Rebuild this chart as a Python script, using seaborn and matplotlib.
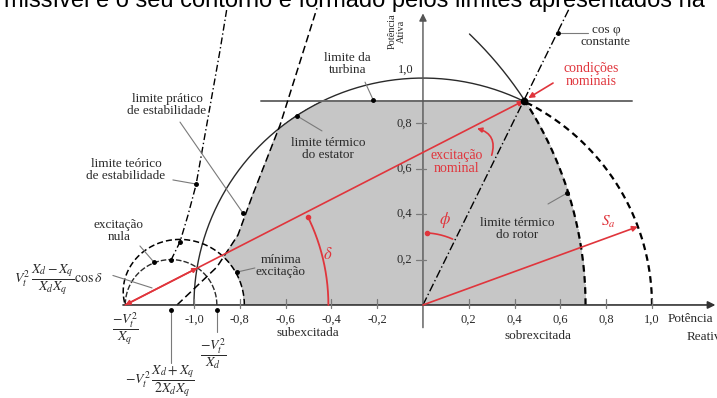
import numpy as np
import matplotlib
matplotlib.use("Agg")
import matplotlib.pyplot as plt
import seaborn as sns

sns.set_theme(style="white")
plt.rcParams["font.family"] = ["Liberation Serif", "DejaVu Serif"]
plt.rcParams["mathtext.fontset"] = "stix"

# ---- diagram values (per unit) ----
x_ticks = [-1.0, -0.8, -0.6, -0.4, -0.2, 0.2, 0.4, 0.6, 0.8, 1.0]
x_tick_labels = ["-1,0", "-0,8", "-0,6", "-0,4", "-0,2", "0,2", "0,4", "0,6", "0,8", "1,0"]
y_ticks = [0.2, 0.4, 0.6, 0.8, 1.0]
y_tick_labels = ["0,2", "0,4", "0,6", "0,8", "1,0"]

stator_radius = 1.0
turbine_p = 0.90
nominal_q, nominal_p = 0.44, 0.90
rotor_center_q, rotor_radius = -0.95, 1.66
v2_over_xq = 1.30          # V^2/Xq
v2_over_xd = 0.90          # V^2/Xd
min_excitation = 0.12
sa_angle_deg = 20.2
cosphi_end_p = 1.31

practical_q = [-1.074, -0.900, -0.808, -0.747, -0.624, -0.463]
practical_p = [0.000, 0.167, 0.308, 0.476, 0.793, 1.308]
theoretical_q = [-1.100, -1.061, -1.026, -0.991, -0.956, -0.921, -0.886, -0.856]
theoretical_p = [0.198, 0.278, 0.396, 0.529, 0.727, 0.925, 1.123, 1.308]

RED = "#e0353c"
INK = "#2a2a2a"
GREY = "#7a7a7a"
FILL = "#c6c6c6"

fig = plt.figure(figsize=(7.17, 3.98), dpi=100)
ax = fig.add_axes([0, 0, 1, 1])
ax.set_xlim(-1.847, 1.284)
ax.set_ylim(-0.410, 1.344)
ax.axis("off")


def arc(cq, cp, r, t0, t1, n=300):
    t = np.radians(np.linspace(t0, t1, n))
    return cq + r * np.cos(t), cp + r * np.sin(t)


def curve(q, p, **kw):
    sns.lineplot(x=np.asarray(q), y=np.asarray(p), sort=False, estimator=None,
                 ax=ax, legend=False, **kw)


a_q = -v2_over_xq                      # origin of the excitation phasor
chord = v2_over_xq - v2_over_xd        # reluctance circle diameter

# ---- operating region (shaded) ----
qq, pp = np.meshgrid(np.linspace(-1.4, 1.1, 1600), np.linspace(0, 1.0, 800))
r_a = np.hypot(qq - a_q, pp)
d_a = np.arctan2(pp, qq - a_q)
region = ((qq ** 2 + pp ** 2 <= stator_radius ** 2)
          & (pp <= turbine_p)
          & ((qq - rotor_center_q) ** 2 + pp ** 2 <= rotor_radius ** 2)
          & (qq >= np.interp(pp, practical_p, practical_q))
          & (r_a >= chord * np.cos(d_a) + min_excitation))
ax.contourf(qq, pp, region.astype(float), levels=[0.5, 1.5], colors=[FILL], zorder=0)

# ---- stator thermal limit (unit circle) ----
nom_ang = np.degrees(np.arctan2(nominal_p, nominal_q))
q, p = arc(0, 0, stator_radius, nom_ang, 180)
curve(q, p, color=INK, lw=1.0, zorder=2)
q, p = arc(0, 0, stator_radius, 0, nom_ang)
curve(q, p, color="black", lw=1.6, linestyle=(0, (3, 2)), zorder=2)

# ---- rotor thermal limit ----
rot_nom = np.degrees(np.arctan2(nominal_p, nominal_q - rotor_center_q))
q, p = arc(rotor_center_q, 0, rotor_radius, rot_nom, 46)
curve(q, p, color=INK, lw=1.0, zorder=2)
q, p = arc(rotor_center_q, 0, rotor_radius, 0, rot_nom)
curve(q, p, color="black", lw=1.6, linestyle=(0, (3, 2)), zorder=2)

# ---- turbine limit ----
curve([-0.707, 0.913], [turbine_p, turbine_p], color="#6a6a6a", lw=1.4, zorder=2)

# ---- zero excitation circle and minimum excitation curve ----
q, p = arc(a_q + chord / 2, 0, chord / 2, 0, 180)
curve(q, p, color=INK, lw=1.0, linestyle=(0, (4, 1.5)), zorder=2)
dd = np.radians(np.linspace(0, 107.5, 300))
rr = chord * np.cos(dd) + min_excitation
curve(a_q + rr * np.cos(dd), rr * np.sin(dd), color="black", lw=1.1,
      linestyle=(0, (4, 2)), zorder=2)

# ---- stability limits ----
curve(practical_q, practical_p, color="black", lw=1.1, linestyle=(0, (5, 2.5)), zorder=2)
curve(theoretical_q, theoretical_p, color="black", lw=1.0,
      linestyle=(0, (5, 2, 1, 2)), zorder=2)

# ---- constant power factor line ----
curve([0, nominal_q / nominal_p * cosphi_end_p], [0, cosphi_end_p], color="black",
      lw=1.0, linestyle=(0, (6, 2, 1, 2)), zorder=2)

# ---- axes with arrows ----
ax.annotate("", xy=(1.277, 0), xytext=(a_q - 0.01, 0),
            arrowprops=dict(arrowstyle="-|>", color="#333333", lw=1.2,
                            mutation_scale=11, shrinkA=0, shrinkB=0), zorder=3)
ax.annotate("", xy=(0, 1.285), xytext=(0, -0.10),
            arrowprops=dict(arrowstyle="-|>", color="#555555", lw=1.0,
                            mutation_scale=11, shrinkA=0, shrinkB=0), zorder=3)

for t, lab in zip(x_ticks, x_tick_labels):
    ax.plot([t, t], [-0.012, 0.025], color=GREY, lw=0.9, zorder=3)
    ax.text(t, -0.064, lab, ha="center", va="center", fontsize=9, color=INK)
for t, lab in zip(y_ticks, y_tick_labels):
    if t < 1.0:
        ax.plot([-0.03, 0.012], [t, t], color=GREY, lw=0.9, zorder=3)
        ax.text(-0.048, t, lab, ha="right", va="center", fontsize=9, color=INK)
    else:
        ax.text(-0.04, t + 0.035, lab, ha="right", va="center", fontsize=9, color=INK)

ax.text(-0.114, 1.205, "Potência\nAtiva", rotation=90, ha="center", va="center",
        fontsize=7.5, color=INK, linespacing=1.0)
ax.text(1.07, -0.06, "Potência", ha="left", va="center", fontsize=9.5, color=INK)
ax.text(1.153, -0.141, "Reativa", ha="left", va="center", fontsize=9.5, color=INK)
ax.text(-0.502, -0.125, "subexcitada", ha="center", va="center", fontsize=9.5, color=INK)
ax.text(0.502, -0.135, "sobrexcitada", ha="center", va="center", fontsize=9.5, color=INK)

# ---- excitation phasors (red) ----
ax.annotate("", xy=(nominal_q, nominal_p), xytext=(a_q, 0),
            arrowprops=dict(arrowstyle="-|>", color=RED, lw=1.2, mutation_scale=8,
                            shrinkA=0, shrinkB=0), zorder=4)
d0 = np.arctan2(nominal_p, nominal_q - a_q)
c_len = chord * np.cos(d0)
ax.annotate("", xy=(a_q, 0), xytext=(a_q + c_len * np.cos(d0), c_len * np.sin(d0)),
            arrowprops=dict(arrowstyle="<|-|>", color=RED, lw=1.2, mutation_scale=7,
                            shrinkA=0, shrinkB=0), zorder=4)
sa = np.radians(sa_angle_deg)
ax.annotate("", xy=(stator_radius * np.cos(sa), stator_radius * np.sin(sa)), xytext=(0, 0),
            arrowprops=dict(arrowstyle="-|>", color=RED, lw=1.2, mutation_scale=8,
                            shrinkA=0, shrinkB=0), zorder=4)
ax.text(0.808, 0.366, r"$S_a$", color=RED, fontsize=11, ha="center", va="center")

# delta angle arc
q, p = arc(a_q, 0, 0.887, 0, np.degrees(d0) - 1.5)
curve(q, p, color=RED, lw=1.3, zorder=4)
ax.plot(q[-1], p[-1], "o", color=RED, ms=3, zorder=5)
ax.text(-0.415, 0.222, r"$\delta$", color=RED, fontsize=12, ha="center", va="center")

# phi angle arc
phi_line = np.degrees(np.arctan2(nominal_p, nominal_q))
q, p = arc(0, 0, 0.318, phi_line + 2, 87)
curve(q, p, color=RED, lw=1.2, zorder=4)
ax.plot(q[-1], p[-1], "o", color=RED, ms=3, zorder=5)
ax.text(0.096, 0.376, r"$\phi$", color=RED, fontsize=12, ha="center", va="center")

# nominal excitation pointer
ax.annotate("", xy=(0.236, 0.778), xytext=(0.30, 0.66),
            arrowprops=dict(arrowstyle="-|>", color=RED, lw=1.2, mutation_scale=7,
                            connectionstyle="arc3,rad=0.5", shrinkA=0, shrinkB=0), zorder=4)
ax.text(0.148, 0.632, "excitação\nnominal", color=RED, fontsize=10, ha="center",
        va="center", linespacing=1.0)

# nominal conditions
ax.annotate("", xy=(nominal_q + 0.02, nominal_p + 0.012), xytext=(0.568, 0.978),
            arrowprops=dict(arrowstyle="-|>", color=RED, lw=1.2, mutation_scale=8,
                            shrinkA=0, shrinkB=0), zorder=4)
ax.text(0.734, 1.013, "condições\nnominais", color=RED, fontsize=10, ha="center",
        va="center", linespacing=1.0)
ax.plot(nominal_q, nominal_p, "o", color="black", ms=4.5, zorder=5)

# ---- labels with leaders ----
labels = [
    ("limite prático\nde estabilidade", (-1.118, 0.881), (-1.061, 0.806), (-0.786, 0.405)),
    ("limite teórico\nde estabilidade", (-1.297, 0.595), (-1.092, 0.551), (-0.991, 0.533)),
    ("limite da\nturbina", (-0.328, 1.062), (-0.253, 0.982), (-0.218, 0.905)),
    ("limite térmico\ndo estator", (-0.415, 0.687), (-0.441, 0.767), (-0.550, 0.833)),
    ("excitação\nnula", (-1.328, 0.326), (-1.236, 0.260), (-1.175, 0.189)),
    ("mínima\nexcitação", (-0.620, 0.172), (-0.734, 0.163), (-0.812, 0.145)),
    ("limite térmico\ndo rotor", (0.410, 0.335), (0.546, 0.445), (0.629, 0.493)),
    ("cos φ\nconstante", (0.799, 1.185), (0.721, 1.198), (0.590, 1.198)),
]
for txt, pos, l0, l1 in labels:
    ax.text(*pos, txt, ha="center", va="center", fontsize=9.5, color=INK, linespacing=1.05)
    ax.plot([l0[0], l1[0]], [l0[1], l1[1]], color=GREY, lw=0.8, zorder=3)
    ax.plot(*l1, "o", color="black", ms=2.5, zorder=5)

# curve intersection markers
ax.plot([-1.100, -1.061], [0.198, 0.278], "o", color="black", ms=2.5, zorder=5)

# ---- formulas ----
ax.text(-1.59, 0.115, r"$V_t^2\,\dfrac{X_d-X_q}{X_dX_q}\cos\delta$", fontsize=10,
        ha="center", va="center", color=INK)
ax.plot([-1.354, -1.183], [0.130, 0.075], color=GREY, lw=0.8)
ax.text(-1.301, -0.105, r"$\dfrac{-V_t^2}{X_q}$", fontsize=10, ha="center", va="center",
        color=INK)
ax.text(-0.913, -0.215, r"$\dfrac{-V_t^2}{X_d}$", fontsize=10, ha="center", va="center",
        color=INK)
ax.plot([-v2_over_xd, -v2_over_xd], [-0.02, -0.12], color=GREY, lw=0.8)
ax.plot(-v2_over_xd, -0.02, "o", color="black", ms=2.5)
center_q = a_q + chord / 2
ax.plot([center_q, center_q], [-0.02, -0.255], color=GREY, lw=0.8)
ax.plot(center_q, -0.02, "o", color="black", ms=2.5)
ax.text(-1.15, -0.335, r"$-V_t^2\,\dfrac{X_d+X_q}{2X_dX_q}$", fontsize=10,
        ha="center", va="center", color=INK)

# running text above the diagram
fig.text(4 / 717, 1 - 7 / 398,
         "missível e o seu contorno é formado pelos limites apresentados na",
         fontsize=17, family=["Liberation Sans", "DejaVu Sans"], color="black",
         ha="left", va="baseline")

fig.savefig("out.png", dpi=100)
